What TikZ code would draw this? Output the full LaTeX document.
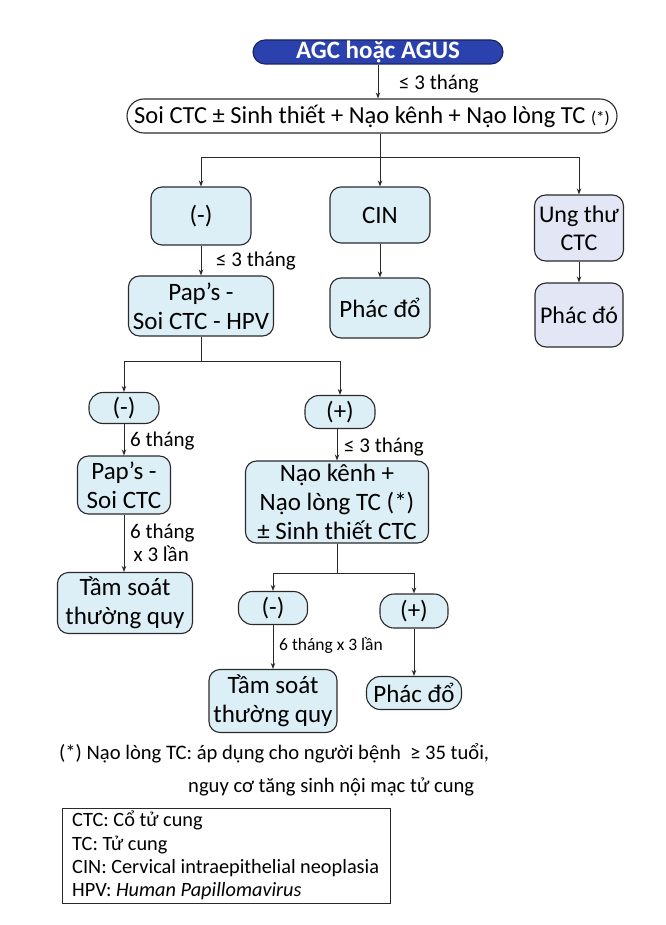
\documentclass[tikz,border=0pt]{standalone}
\usepackage{fontspec}
\setmainfont{Carlito}
\usetikzlibrary{arrows.meta,calc}
\definecolor{boxblue}{HTML}{DDEFF6}
\definecolor{boxlav}{HTML}{E3E6F4}
\definecolor{agcblue}{HTML}{2B41AE}
\definecolor{edge}{HTML}{2A2A2A}
\newcommand{\fsz}[1]{\fontsize{#1pt}{\the\dimexpr #1pt*23/20\relax}\selectfont}
\tikzset{
  box/.style={draw=edge, line width=1.1pt, fill=boxblue, rounded corners=11pt, align=center,
    inner sep=0pt, font=\fsz{25}},
  lav/.style={box, fill=boxlav},
  pill/.style={box, rounded corners=14pt},
  lbl/.style={anchor=west, inner sep=0pt, font=\fsz{21}, align=left},
  arr/.style={draw=edge, line width=0.9pt, -{Stealth[length=6pt,width=4.5pt]}},
  ln/.style={draw=edge, line width=0.9pt},
}
\begin{document}
\begin{tikzpicture}[x=1pt,y=-1pt]
\useasboundingbox[fill=white] (0,0) rectangle (665,925);
% nodes
\node[box, fill=agcblue, draw=agcblue!55!black, rounded corners=12pt, minimum width=250pt, minimum height=24pt,
  text=white, font=\fsz{25}\bfseries] (agc) at (378,52) {AGC hoặc AGUS};
\node[box, fill=white, rounded corners=17pt, minimum width=490pt, minimum height=34pt, font=\fsz{24.5}] (soi) at (372,116)
  {Soi CTC ± Sinh thiết + Nạo kênh + Nạo lòng TC \fsz{17}(*)};
\node[box, minimum width=100pt, minimum height=58pt] (neg1) at (201,216) {(-)};
\node[box, minimum width=100pt, minimum height=56pt] (cin) at (380,215) {CIN};
\node[lav, minimum width=89pt, minimum height=66pt, font=\fsz{24}] (ung) at (579,228) {Ung thư\\CTC};
\node[box, minimum width=145pt, minimum height=60pt] (pap1) at (201,306) {Pap’s -\\Soi CTC - HPV};
\node[box, minimum width=100pt, minimum height=60pt] (pd1) at (380,308) {Phác đổ};
\node[lav, minimum width=88pt, minimum height=64pt, font=\fsz{24}] (pd2) at (579,315) {Phác đó};
\node[pill, minimum width=70pt, minimum height=31pt] (neg2) at (124,408) {(-)};
\node[pill, minimum width=70pt, minimum height=33pt] (pos2) at (340,412) {(+)};
\node[box, minimum width=93pt, minimum height=58pt] (pap2) at (124,485) {Pap’s -\\Soi CTC};
\node[box, minimum width=183pt, minimum height=82pt] (nao) at (337,502) {Nạo kênh +\\Nạo lòng TC (*)\\± Sinh thiết CTC};
\node[box, minimum width=135pt, minimum height=61pt] (tam1) at (125,603) {Tầm soát\\thường quy};
\node[pill, minimum width=69pt, minimum height=33pt] (neg3) at (273,608) {(-)};
\node[pill, minimum width=68pt, minimum height=34pt] (pos3) at (414,611) {(+)};
\node[box, minimum width=128pt, minimum height=63pt] (tam2) at (273,701) {Tầm soát\\thường quy};
\node[pill, minimum width=95pt, minimum height=33pt] (pd3) at (414,693) {Phác đổ};
% connectors
\draw[arr] (agc.south) -- (agc.south |- soi.north);
\node[lbl] (l1) at (399,84) {≤ 3 tháng};
\coordinate (j1) at ($(soi.south -| cin.north)+(0,24)$);
\draw[ln] (soi.south -| cin.north) -- (j1);
\draw[arr] (j1) -| (neg1.north);
\draw[arr] (j1) -- (cin.north);
\draw[arr] (j1) -| (ung.north);
\draw[arr] (neg1) -- (pap1);
\node[lbl] (l2) at (216,261) {≤ 3 tháng};
\draw[arr] (cin) -- (pd1);
\draw[arr] (ung) -- (pd2);
\coordinate (j2) at ($(pap1.south)+(0,25)$);
\draw[ln] (pap1.south) -- (j2);
\draw[arr] (j2) -| (neg2.north);
\draw[arr] (j2) -| (pos2.north);
\draw[arr] (neg2) -- (pap2);
\node[lbl] (l3) at (130,441) {6 tháng};
\draw[arr] (pos2.south -| nao.north) -- (nao.north);
\node[lbl] (l4) at (344,447) {≤ 3 tháng};
\draw[arr] (pap2) -- (tam1.north -| pap2.south);
\node[lbl] (l5) at (130,543) {6 tháng\\[-1pt]\,x 3 lần};
\coordinate (j3) at ($(nao.south)+(0,30)$);
\draw[ln] (nao.south) -- (j3);
\draw[arr] (j3) -| (neg3.north);
\draw[arr] (j3) -| (pos3.north);
\draw[arr] (neg3) -- (tam2);
\node[lbl, font=\fsz{17.5}] (l6) at (279,645) {6 tháng x 3 lần};
\draw[arr] (pos3) -- (pd3);
% footnote
\node[lbl, font=\fsz{20.6}] (fn1) at (59,753) {(*) Nạo lòng TC: áp dụng cho người bệnh \ ≥ 35 tuổi,};
\node[lbl, font=\fsz{20.6}] (fn2) at (188,787) {nguy cơ tăng sinh nội mạc tử cung};
\node[draw=edge, line width=1pt, minimum width=328pt, minimum height=95pt, inner sep=0pt] (leg) at (226,855.5) {};
\node[lbl, font=\fsz{20.3}, anchor=north west] (legt) at (72,811)
  {CTC: Cổ tử cung\\TC: Tử cung\\CIN: Cervical intraepithelial neoplasia\\HPV: \textit{Human Papillomavirus}};
\end{tikzpicture}
\end{document}
